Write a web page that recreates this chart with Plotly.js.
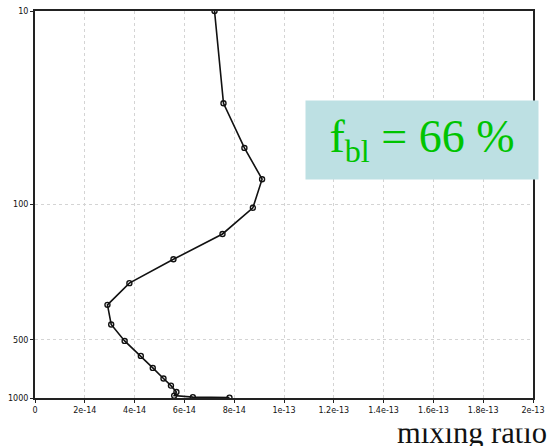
<!DOCTYPE html>
<html>
<head>
<meta charset="utf-8">
<script src="https://cdn.plot.ly/plotly-3.0.1.min.js"></script>
<style>html,body{margin:0;padding:0;background:#fff;}#chart{width:551px;height:446px;}</style>
</head>
<body>
<div id="chart"></div>
<script>
// mixing ratio profile vs pressure (hPa)
const pressure = [10, 30, 51, 74, 104, 142, 192, 255, 330, 417, 507, 606, 699, 793, 863, 931, 972, 990, 996];
const mixingRatio = [7.21e-14, 7.57e-14, 8.41e-14, 9.12e-14, 8.75e-14, 7.53e-14, 5.56e-14, 3.79e-14, 2.91e-14, 3.06e-14, 3.60e-14, 4.25e-14, 4.73e-14, 5.16e-14, 5.46e-14, 5.68e-14, 5.59e-14, 6.34e-14, 7.81e-14];
const xTickVals = [0, 2e-14, 4e-14, 6e-14, 8e-14, 1e-13, 1.2e-13, 1.4e-13, 1.6e-13, 1.8e-13, 2e-13];
const xTickText = ["0", "2e-14", "4e-14", "6e-14", "8e-14", "1e-13", "1.2e-13", "1.4e-13", "1.6e-13", "1.8e-13", "2e-13"];
const yTickVals = [10, 100, 500, 1000];
const yTickText = ["10", "100", "500", "1000"];
const labelText = "f<sub>bl</sub> = 66 %";
const xLabel = "mixing ratio";

const trace = {
  x: mixingRatio, y: pressure, type: 'scatter', mode: 'lines+markers',
  line: {color: '#111', width: 1.6},
  marker: {symbol: 'circle-open', size: 5, color: '#111', line: {width: 1.4, color: '#111'}},
  showlegend: false, hoverinfo: 'skip'
};
const tickFont = {family: 'DejaVu Sans', size: 8, color: '#111'};
const layout = {
  width: 551, height: 446,
  margin: {l: 35, r: 18, t: 11, b: 48},
  paper_bgcolor: '#fff', plot_bgcolor: '#fff',
  xaxis: {
    range: [0, 2e-13], tickvals: xTickVals, ticktext: xTickText,
    showline: true, mirror: true, linecolor: '#222', linewidth: 2,
    ticks: 'outside', ticklen: 3, tickwidth: 1, tickcolor: '#222',
    showgrid: true, gridcolor: '#d4d4d4', griddash: 'dot', gridwidth: 1,
    zeroline: false, tickfont: tickFont
  },
  yaxis: {
    type: 'log', range: [3, 1], tickvals: yTickVals, ticktext: yTickText,
    showline: true, mirror: true, linecolor: '#222', linewidth: 2,
    ticks: 'outside', ticklen: 3, tickwidth: 1, tickcolor: '#222',
    showgrid: true, gridcolor: '#d4d4d4', griddash: 'dot', gridwidth: 1,
    zeroline: false, tickfont: tickFont
  },
  annotations: [
    {xref: 'paper', yref: 'paper', x: 0.778, y: 0.667, xanchor: 'center', yanchor: 'middle',
     text: labelText, showarrow: false, bgcolor: '#bde0e3', borderpad: 0,
     width: 232, height: 78,
     font: {family: 'Liberation Serif', size: 46, color: '#00c400'}},
    {xref: 'paper', yref: 'paper', x: 0.723, y: -0.09, xanchor: 'left', yanchor: 'middle',
     text: xLabel, showarrow: false,
     font: {family: 'Liberation Serif', size: 30.5, color: '#111'}},
    {xref: 'paper', yref: 'paper', x: 0.8745, y: -0.062, xanchor: 'center', yanchor: 'middle',
     text: ' ', showarrow: false, bgcolor: '#fff', borderpad: 0, width: 161, height: 12,
     font: {size: 10}}
  ]
};
Plotly.newPlot('chart', [trace], layout, {displayModeBar: false, staticPlot: true});
</script>
</body>
</html>
